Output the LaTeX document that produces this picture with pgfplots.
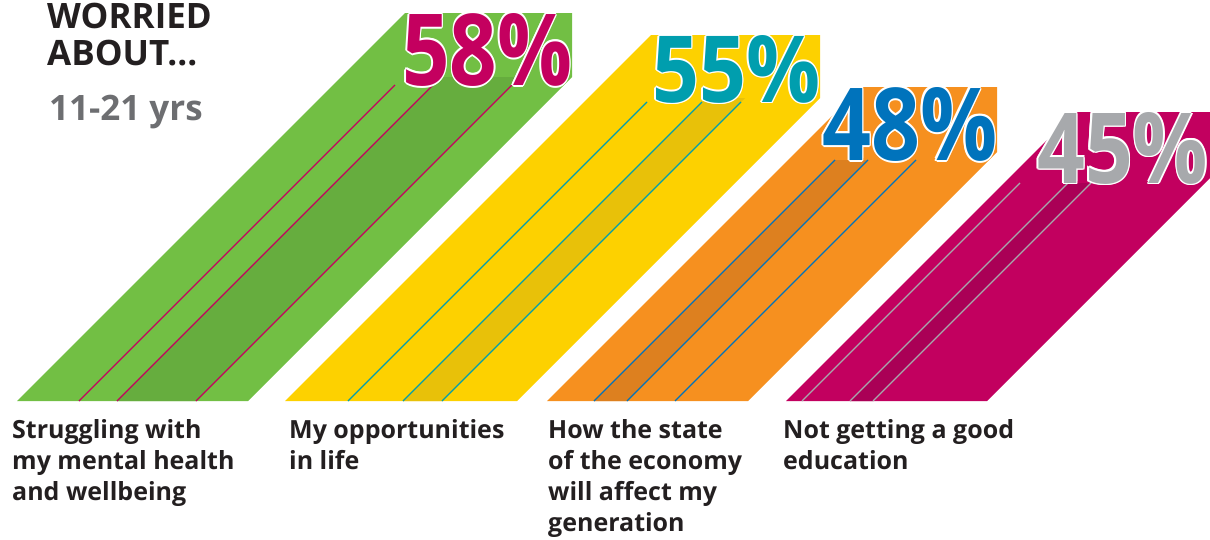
\documentclass[border=0pt]{standalone}
\usepackage{pgfplots}
\pgfplotsset{compat=1.18}
\usepackage{fontspec}
\setmainfont{Open Sans}
\definecolor{gL}{HTML}{72BF44}
\definecolor{gD}{HTML}{66AD3E}
\definecolor{yL}{HTML}{FDD100}
\definecolor{yD}{HTML}{E8C109}
\definecolor{oL}{HTML}{F6901F}
\definecolor{oD}{HTML}{DD801F}
\definecolor{mL}{HTML}{C2005F}
\definecolor{mD}{HTML}{AA0056}
\definecolor{cMag}{HTML}{C4005F}
\definecolor{cTeal}{HTML}{009EAE}
\definecolor{cBlue}{HTML}{0073BC}
\definecolor{cGray}{HTML}{A7A9AC}
\definecolor{txt}{HTML}{231F20}
\definecolor{sub}{HTML}{6D6E71}
\newcommand\wcopy[3]{\rlap{\color{white}\smash{\kern#1\raisebox{#2}{#3}}}}
\newcommand\otext[1]{\fontsize{100}{100}\selectfont\bfseries
  \wcopy{1.8pt}{0pt}{#1}\wcopy{-1.8pt}{0pt}{#1}\wcopy{0pt}{1.8pt}{#1}\wcopy{0pt}{-1.8pt}{#1}%
  \wcopy{1.3pt}{1.3pt}{#1}\wcopy{-1.3pt}{1.3pt}{#1}\wcopy{1.3pt}{-1.3pt}{#1}\wcopy{-1.3pt}{-1.3pt}{#1}%
  #1}
\tikzset{lab/.style={anchor=base west,inner sep=0,text=txt,font=\fontsize{25}{31}\selectfont\bfseries}}
\begin{document}
\begin{tikzpicture}
\useasboundingbox (0,0) rectangle (1210pt,539pt);
\begin{axis}[at={(0,0)},anchor=south west,width=1210pt,height=539pt,scale only axis,
  xmin=0,xmax=1210,ymin=0,ymax=539,y dir=reverse,hide axis,clip=true]
% 58% bar (green)
\addplot[fill=gL,draw=none] coordinates {(17,401) (248,401) (572,77) (572,13) (405,13) (17,401)};
\addplot[fill=gD,draw=none] coordinates {(117,401) (196,401) (520,77) (441,77) (117,401)};
\addplot[cMag,line width=1.1pt] coordinates {(79,401) (395,85)};
\addplot[cMag,line width=1.1pt] coordinates {(117,401) (433,85)};
\addplot[cMag,line width=1.1pt] coordinates {(196,401) (512,85)};
% 55% bar (yellow)
\addplot[fill=yL,draw=none] coordinates {(285,401) (517,401) (820,98) (820,35) (651,35) (285,401)};
\addplot[fill=yD,draw=none] coordinates {(403,401) (442,401) (745,98) (706,98) (403,401)};
\addplot[cTeal,line width=1.1pt] coordinates {(348,401) (647,102)};
\addplot[cTeal,line width=1.1pt] coordinates {(403,401) (702,102)};
\addplot[cTeal,line width=1.1pt] coordinates {(442,401) (741,102)};
% 48% bar (orange)
\addplot[fill=oL,draw=none] coordinates {(547,401) (748,401) (997,152) (997,87) (861,87) (547,401)};
\addplot[fill=oD,draw=none] coordinates {(594,401) (627,401) (868,160) (835,160) (594,401)};
\addplot[cBlue,line width=1.1pt] coordinates {(594,401) (835,160)};
\addplot[cBlue,line width=1.1pt] coordinates {(627,401) (868,160)};
\addplot[cBlue,line width=1.1pt] coordinates {(675,401) (916,160)};
% 45% bar (magenta)
\addplot[fill=mL,draw=none] coordinates {(786,401) (987,401) (1210,178) (1210,112) (1075,112) (786,401)};
\addplot[fill=mD,draw=none] coordinates {(850,401) (873,401) (1091,183) (1068,183) (850,401)};
\addplot[cGray,line width=1.1pt] coordinates {(802,401) (1020,183)};
\addplot[cGray,line width=1.1pt] coordinates {(850,401) (1068,183)};
\addplot[cGray,line width=1.1pt] coordinates {(873,401) (1091,183)};
% percentages
\node[anchor=north west,inner sep=0,text=cMag] at (axis cs:402,13) {\resizebox{170pt}{72pt}{\otext{58\%}}};
\node[anchor=north west,inner sep=0,text=cTeal] at (axis cs:652,35) {\resizebox{168pt}{67pt}{\otext{55\%}}};
\node[anchor=north west,inner sep=0,text=cBlue] at (axis cs:822,87) {\resizebox{175pt}{73pt}{\otext{48\%}}};
\node[anchor=north west,inner sep=0,text=cGray] at (axis cs:1037,112) {\resizebox{171pt}{71pt}{\otext{45\%}}};
% title
\node[anchor=base west,inner sep=0,text=txt,font=\fontsize{35}{40}\selectfont\bfseries] at (axis cs:47,28) {WORRIED};
\node[anchor=base west,inner sep=0,text=txt,font=\fontsize{35}{40}\selectfont\bfseries] at (axis cs:47,65) {ABOUT...};
\node[anchor=base west,inner sep=0,text=sub,font=\fontsize{35}{40}\selectfont\bfseries] at (axis cs:49,120) {11-21 yrs};
% labels
\node[lab] at (axis cs:12,438) {Struggling with};
\node[lab] at (axis cs:12,469) {my mental health};
\node[lab] at (axis cs:12,500) {and wellbeing};
\node[lab] at (axis cs:289,438) {My opportunities};
\node[lab] at (axis cs:289,469) {in life};
\node[lab] at (axis cs:548,438) {How the state};
\node[lab] at (axis cs:548,469) {of the economy};
\node[lab] at (axis cs:548,500) {will affect my};
\node[lab] at (axis cs:548,531) {generation};
\node[lab] at (axis cs:783,438) {Not getting a good};
\node[lab] at (axis cs:783,469) {education};
\end{axis}
\end{tikzpicture}
\end{document}
